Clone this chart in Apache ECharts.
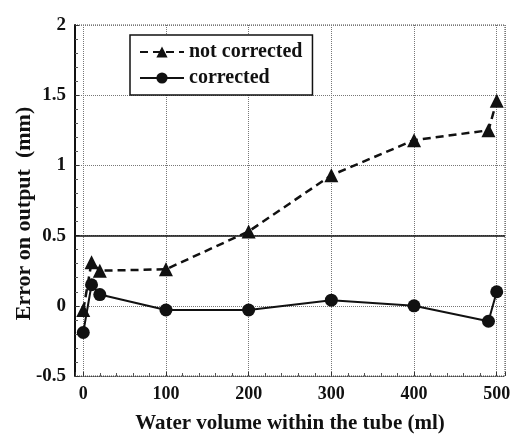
<!DOCTYPE html>
<html>
<head>
<meta charset="utf-8">
<script src="https://cdn.jsdelivr.net/npm/echarts@6/dist/echarts.min.js"></script>
<style>
  html, body { margin: 0; padding: 0; background: #fff; }
  #chart { width: 514px; height: 434px; }
</style>
</head>
<body>
<div id="chart"></div>
<script>
// data
const volumes = [0, 10, 20, 100, 200, 300, 400, 490, 500];
const notCorrected = [-0.03, 0.31, 0.25, 0.26, 0.53, 0.93, 1.18, 1.25, 1.46];
const corrected = [-0.19, 0.15, 0.08, -0.03, -0.03, 0.04, 0.0, -0.11, 0.1];
const refLevel = 0.5;

const font = '"Liberation Serif", "DejaVu Serif", serif';
const pairs = (ys) => volumes.map((x, i) => [x, ys[i]]);

const chart = echarts.init(document.getElementById('chart'));
chart.setOption({
  animation: false,
  backgroundColor: '#fff',
  textStyle: { fontFamily: font },
  grid: {
    left: 75, right: 9, top: 25, bottom: 58,
    outerBoundsMode: 'none',
    show: true,
    borderColor: '#444',
    borderWidth: 1,
    borderType: 'dotted'
  },
  legend: {
    orient: 'vertical',
    left: 130,
    top: 35,
    padding: [7, 10, 7, 9],
    itemGap: 6,
    itemWidth: 44,
    itemHeight: 14,
    borderColor: '#111',
    borderWidth: 1.5,
    backgroundColor: '#fff',
    textStyle: { fontFamily: font, fontWeight: 'bold', fontSize: 20, color: '#111' },
    data: ['not corrected', 'corrected']
  },
  xAxis: {
    type: 'value',
    min: -10,
    max: 510,
    splitNumber: 5,
    name: 'Water volume within the tube (ml)',
    nameLocation: 'middle',
    nameGap: 37,
    nameTextStyle: { fontFamily: font, fontWeight: 'bold', fontSize: 21, color: '#111' },
    axisLine: { show: true, onZero: false, lineStyle: { color: '#444', type: 'dotted', width: 1 } },
    axisTick: { inside: true, length: 4, lineStyle: { color: '#333' } },
    minorTick: { show: true, splitNumber: 5, length: 3, lineStyle: { color: '#555' } },
    axisLabel: {
      showMinLabel: false, showMaxLabel: false,
      margin: 9, fontFamily: font, fontWeight: 'bold', fontSize: 18, color: '#111'
    },
    splitLine: { show: true, lineStyle: { color: '#777', type: 'dotted', width: 1 } }
  },
  yAxis: {
    type: 'value',
    min: -0.5,
    max: 2,
    interval: 0.5,
    name: 'Error on output  (mm)',
    nameLocation: 'middle',
    nameGap: 40,
    nameMoveOverlap: false,
    nameTextStyle: { fontFamily: font, fontWeight: 'bold', fontSize: 22, color: '#111', padding: [0, 26, 0, 0] },
    axisLine: { show: true, onZero: false, lineStyle: { color: '#111', width: 2 } },
    axisTick: { inside: true, length: 4, lineStyle: { color: '#333' } },
    minorTick: { show: true, splitNumber: 5, length: 3, lineStyle: { color: '#555' } },
    axisLabel: { margin: 9, fontFamily: font, fontWeight: 'bold', fontSize: 19, color: '#111' },
    splitLine: { show: true, lineStyle: { color: '#777', type: 'dotted', width: 1 } }
  },
  series: [
    {
      name: 'not corrected',
      type: 'line',
      data: pairs(notCorrected),
      symbol: 'triangle',
      symbolSize: 14,
      itemStyle: { color: '#111' },
      lineStyle: { color: '#111', width: 2.5, type: [8, 5] },
      markLine: {
        silent: true,
        symbol: 'none',
        label: { show: false },
        lineStyle: { color: '#111', width: 1.5, type: 'solid' },
        data: [{ yAxis: refLevel }]
      }
    },
    {
      name: 'corrected',
      type: 'line',
      data: pairs(corrected),
      symbol: 'circle',
      symbolSize: 13,
      itemStyle: { color: '#111' },
      lineStyle: { color: '#111', width: 2 }
    }
  ]
});
</script>
</body>
</html>
